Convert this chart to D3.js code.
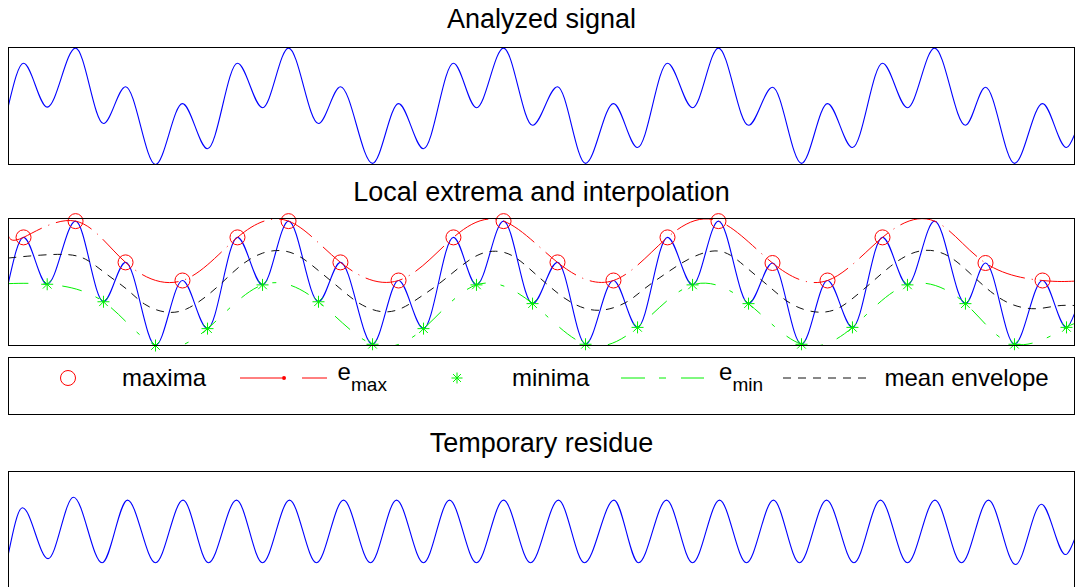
<!DOCTYPE html>
<html>
<head>
<meta charset="utf-8">
<script src="https://cdn.jsdelivr.net/npm/d3@7"></script>
<style>
  body { margin: 0; background: #fff; }
  text { font-family: "Liberation Sans", Arial, Helvetica, sans-serif; fill: #000; }
</style>
</head>
<body>
<script>
//Data (t: 0..100 across the axes, v: signal units)
const titles = ["Analyzed signal", "Local extrema and interpolation", "Temporary residue"];
const legendLabels = ["maxima", "e", "max", "minima", "e", "min", "mean envelope"];

// signal: start, alternating extrema, end
const signal = [
  [0, 0.01], [1.41, 0.73], [3.63, -0.02], [6.29, 0.99], [8.91, -0.30], [10.98, 0.33],
  [13.79, -1.0], [16.32, 0.04], [18.67, -0.73], [21.48, 0.73], [23.83, -0.03], [26.27, 0.99],
  [29.08, -0.30], [31.14, 0.33], [34.15, -0.98], [36.59, 0.04], [38.93, -0.73], [41.74, 0.73],
  [43.90, -0.03], [46.44, 0.99], [49.16, -0.33], [51.50, 0.33], [54.13, -0.98], [56.75, 0.04],
  [59.01, -0.71], [61.82, 0.73], [64.17, -0.03], [66.60, 0.99], [69.42, -0.33], [71.67, 0.32],
  [74.39, -0.98], [76.83, 0.04], [79.17, -0.71], [81.99, 0.73], [84.33, -0.03], [86.87, 0.99],
  [89.77, -0.33], [91.65, 0.32], [94.37, -0.98], [97.00, 0.04], [99.25, -0.71], [100, -0.49]
];

// envelope values at the two edges of the axes
const upperEnds = [[0, 0.75], [100, 0.03]];
const lowerEnds = [[0, -0.01], [100, -0.69]];
// the maximum with no circle drawn on it
const noCircleAt = 86.87;

// mean envelope
const meanEnv = [
  [0, 0.40], [3.0, 0.45], [5.82, 0.47], [7.41, 0.39], [9.29, 0.12], [11.16, -0.09], [12.66, -0.36],
  [14.73, -0.49], [16.6, -0.46], [18.95, -0.17], [20.54, 0.09], [22.05, 0.33], [23.83, 0.50],
  [25.7, 0.54], [27.39, 0.44], [29.27, 0.17], [31.14, -0.09], [32.74, -0.33], [34.9, -0.49],
  [36.77, -0.44], [38.65, -0.22], [40.24, -0.04], [42.12, 0.23], [43.99, 0.47], [45.68, 0.53],
  [47.37, 0.46], [49.25, 0.17], [50.84, -0.07], [52.72, -0.33], [55.25, -0.49], [58.07, -0.33],
  [59.57, -0.09], [61.82, 0.17], [63.7, 0.39], [66.14, 0.55], [67.73, 0.47], [69.32, 0.23],
  [71.48, -0.07], [73.36, -0.36], [75.7, -0.49], [77.58, -0.45], [78.99, -0.28], [80.86, -0.01],
  [82.74, 0.28], [84.62, 0.49], [86.49, 0.55], [88.37, 0.44], [90.24, 0.15], [92.12, -0.15],
  [94.0, -0.36], [96.34, -0.44], [98.4, -0.35], [100, -0.36]
];

// temporary residue: start, alternating extrema, end
const residue = [
  [0, -0.40], [1.31, 0.38], [3.71, -0.49], [6.10, 0.56], [8.78, -0.56], [11.16, 0.51],
  [13.79, -0.56], [16.37, 0.51], [18.76, -0.56], [21.39, 0.51], [23.83, -0.56], [26.36, 0.51],
  [28.89, -0.56], [31.43, 0.51], [33.96, -0.56], [36.4, 0.51], [38.93, -0.56], [41.37, 0.51],
  [43.9, -0.56], [46.44, 0.51], [48.97, -0.56], [51.59, 0.51], [54.03, -0.56], [56.8, 0.51],
  [59.1, -0.56], [61.73, 0.51], [64.17, -0.56], [66.7, 0.51], [69.23, -0.56], [71.76, 0.51],
  [74.2, -0.56], [76.74, 0.51], [79.31, -0.56], [81.8, 0.51], [84.33, -0.56], [86.91, 0.51],
  [89.4, -0.56], [91.93, 0.51], [94.47, -0.59], [96.9, 0.44], [99.16, -0.42], [100, -0.16]
];

//Derived extrema (inner points of the signal list)
const maxima = signal.filter((d, i) => i > 0 && i < signal.length - 1 && d[1] > signal[i - 1][1]);
const minima = signal.filter((d, i) => i > 0 && i < signal.length - 1 && d[1] < signal[i - 1][1]);
const upperEnv = [upperEnds[0], ...maxima, upperEnds[1]];
const lowerEnv = [lowerEnds[0], ...minima, lowerEnds[1]];

//Consts
const width = 1075;
const height = 587;
const left = 8.5, right = 1074.5;
const panels = [
  {top: 47.5, bottom: 164.5, titleY: 28},
  {top: 218.5, bottom: 345.5, titleY: 201},
  {top: 471.5, bottom: 588.5, titleY: 452}
];
const blue = "#0000ff", red = "#ff0000", green = "#00f000";

//SVG
const svg = d3.select("body")
  .append("svg")
  .attr("width", width)
  .attr("height", height);

svg.append("rect").attr("width", width).attr("height", height).attr("fill", "#fff");

//Scales
const xScale = d3.scaleLinear().domain([0, 100]).range([left, right]);
const y1 = d3.scaleLinear().domain([-1, 1]).range([panels[0].bottom, panels[0].top]);
const y2 = d3.scaleLinear().domain([-1, 1.032]).range([panels[1].bottom, panels[1].top]);
const y3 = d3.scaleLinear().domain([-1, 1]).range([panels[2].bottom, panels[2].top]);

//Clip for the envelope lines
svg.append("clipPath").attr("id", "clip2")
  .append("rect")
  .attr("x", left).attr("y", panels[1].top)
  .attr("width", right - left).attr("height", panels[1].bottom - panels[1].top);

//Titles
panels.forEach((p, i) => {
  svg.append("text")
    .attr("x", (left + right) / 2)
    .attr("y", p.titleY)
    .attr("text-anchor", "middle")
    .style("font-size", "27px")
    .text(titles[i]);
});

function line(yScale, curve) {
  return d3.line().x(d => xScale(d[0])).y(d => yScale(d[1])).curve(curve);
}

//Panel 1 - signal
svg.append("path")
  .attr("d", line(y1, d3.curveMonotoneX)(signal))
  .attr("fill", "none").attr("stroke", blue).attr("stroke-width", 1.1);

//Panel 2 - extrema, envelopes
const g2 = svg.append("g");
g2.append("path")
  .attr("d", line(y2, d3.curveMonotoneX)(signal))
  .attr("fill", "none").attr("stroke", blue).attr("stroke-width", 1.1);

const env = g2.append("g").attr("clip-path", "url(#clip2)");
env.append("path")
  .attr("d", line(y2, d3.curveNatural)(upperEnv))
  .attr("fill", "none").attr("stroke", red).attr("stroke-width", 1)
  .attr("stroke-dasharray", "38,7,1,7");
env.append("path")
  .attr("d", line(y2, d3.curveNatural)(lowerEnv))
  .attr("fill", "none").attr("stroke", green).attr("stroke-width", 1)
  .attr("stroke-dasharray", "20,15,4,15");
env.append("path")
  .attr("d", line(y2, d3.curveBasis)(meanEnv))
  .attr("fill", "none").attr("stroke", "#111").attr("stroke-width", 1)
  .attr("stroke-dasharray", "8,7");

g2.selectAll("circle.max")
  .data(maxima.filter(d => d[0] !== noCircleAt))
  .enter().append("circle")
  .attr("class", "max")
  .attr("cx", d => xScale(d[0]))
  .attr("cy", d => y2(d[1]))
  .attr("r", 7.5)
  .attr("fill", "none").attr("stroke", red).attr("stroke-width", 1);

function starPath(cx, cy, a) {
  const b = a * 0.72;
  return `M${cx - a},${cy}H${cx + a}M${cx},${cy - a}V${cy + a}` +
         `M${cx - b},${cy - b}L${cx + b},${cy + b}M${cx - b},${cy + b}L${cx + b},${cy - b}`;
}

g2.selectAll("path.min")
  .data(minima)
  .enter().append("path")
  .attr("class", "min")
  .attr("d", d => starPath(xScale(d[0]), y2(d[1]), 6))
  .attr("fill", "none").attr("stroke", green).attr("stroke-width", 1);

//Panel 3 - residue
svg.append("path")
  .attr("d", line(y3, d3.curveMonotoneX)(residue))
  .attr("fill", "none").attr("stroke", blue).attr("stroke-width", 1.1);

//Boxes
panels.forEach(p => {
  svg.append("rect")
    .attr("x", left).attr("y", p.top)
    .attr("width", right - left).attr("height", p.bottom - p.top)
    .attr("fill", "none").attr("stroke", "#000").attr("stroke-width", 1);
});

//Legend
const lg = svg.append("g");
lg.append("rect")
  .attr("x", left).attr("y", 357.5)
  .attr("width", right - left).attr("height", 57)
  .attr("fill", "#fff").attr("stroke", "#000").attr("stroke-width", 1);

const ly = 378;
const tY = 386;
lg.append("circle").attr("cx", 68).attr("cy", ly).attr("r", 7.5)
  .attr("fill", "none").attr("stroke", red);
lg.append("text").attr("x", 122).attr("y", tY).style("font-size", "24px").text(legendLabels[0]);

lg.append("path").attr("d", `M240,${ly}H282M302,${ly}H327`).attr("stroke", red).attr("fill", "none");
lg.append("circle").attr("cx", 284).attr("cy", ly).attr("r", 2).attr("fill", red);
lg.append("text").attr("x", 337.5).attr("y", 380).style("font-size", "24px").text(legendLabels[1]);
lg.append("text").attr("x", 351).attr("y", 391).style("font-size", "19px").text(legendLabels[2]);

lg.append("path").attr("d", starPath(457, ly, 5.5)).attr("stroke", green).attr("fill", "none");
lg.append("text").attr("x", 512).attr("y", tY).style("font-size", "24px").text(legendLabels[3]);

lg.append("path").attr("d", `M621,${ly}H645M659,${ly}H666M681,${ly}H704`).attr("stroke", green).attr("fill", "none");
lg.append("text").attr("x", 719).attr("y", 380).style("font-size", "24px").text(legendLabels[4]);
lg.append("text").attr("x", 732.5).attr("y", 391).style("font-size", "19px").text(legendLabels[5]);

lg.append("path").attr("d", `M783,${ly}H866`).attr("stroke", "#111").attr("stroke-dasharray", "8,7").attr("fill", "none");
lg.append("text").attr("x", 884.5).attr("y", tY).style("font-size", "24px").text(legendLabels[6]);
</script>
</body>
</html>
